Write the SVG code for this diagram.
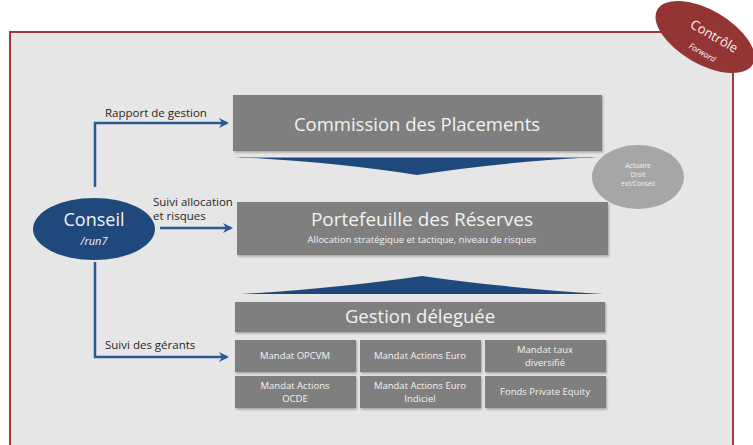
<svg xmlns="http://www.w3.org/2000/svg" width="753" height="445" viewBox="0 0 753 445">
<defs>
<style>
.box{fill:#7f7f7f;filter:url(#sh)}
.t{font-family:"Open Sans","Liberation Sans",sans-serif;fill:#f2f2f2;text-anchor:middle}
.lbl{font-family:"Open Sans","Liberation Sans",sans-serif;fill:#262626;font-size:11.5px}
.con{fill:none;stroke:#2a5a95;stroke-width:2.5;stroke-linejoin:miter}
.chev{fill:#1f497d}
.m{font-size:9.5px}
</style>
<filter id="sh" x="-5%" y="-10%" width="110%" height="130%">
<feDropShadow dx="1" dy="1.5" stdDeviation="1" flood-color="#000" flood-opacity="0.3"/>
</filter>
<marker id="ah" viewBox="0 0 10 10" refX="8" refY="5" markerWidth="4" markerHeight="4" orient="auto" markerUnits="strokeWidth">
<path d="M0,0 L10,5 L0,10 L3,5 Z" fill="#2a5a95"/>
</marker>
</defs>
<rect width="753" height="445" fill="#ffffff"/>
<g id="frame">
<rect x="10" y="32" width="723" height="420" fill="#e6e6e6" stroke="#a33a3a" stroke-width="2"/>
</g>
<g id="controle">
<ellipse cx="705" cy="37" rx="55" ry="27" transform="rotate(30 705 37)" fill="#943535"/>
<text class="t" x="712" y="40" font-size="13" transform="rotate(30 712 40)">Contrôle</text>
<text class="t" x="701" y="55" font-size="8" font-style="italic" transform="rotate(30 701 55)">Forward</text>
</g>
<g id="chevrons">
<path class="chev" d="M234,157 L598,157 Q500,162 417,175 Q334,162 234,157 Z"/>
<line x1="240" y1="157.5" x2="592" y2="157.5" stroke="#7d9acb" stroke-width="1"/>
<path class="chev" d="M242,294 L603,294 Q505,288 422,276 Q340,288 242,294 Z"/>
</g>
<g id="commission">
<rect class="box" x="233" y="95" width="369" height="56"/>
<text class="t" x="417" y="131" font-size="18.5">Commission des Placements</text>
</g>
<g id="actuaire">
<ellipse cx="638" cy="177" rx="46" ry="32" fill="#a6a6a6"/>
<text class="t" x="638" y="168" font-size="6.5">Actuaire</text>
<text class="t" x="638" y="177" font-size="6.5">Droit</text>
<text class="t" x="638" y="186" font-size="6.5">ext/Conseil</text>
</g>
<g id="connectors">
<path class="con" d="M95,187 L95,123 L227,123" marker-end="url(#ah)"/>
<path class="con" d="M160,228 L231,228" marker-end="url(#ah)"/>
<path class="con" d="M95,262 L95,357 L227,357" marker-end="url(#ah)"/>
<text class="lbl" x="105" y="117">Rapport de gestion</text>
<text class="lbl" x="153" y="206" font-size="10">Suivi  allocation</text>
<text class="lbl" x="153" y="220" font-size="10">et risques</text>
<text class="lbl" x="105" y="349">Suivi des gérants</text>
</g>
<g id="portefeuille">
<rect class="box" x="237" y="202" width="371" height="53"/>
<text class="t" x="422" y="226" font-size="19">Portefeuille des Réserves</text>
<text class="t" x="422" y="243" font-size="9.5">Allocation stratégique et tactique, niveau de risques</text>
</g>
<g id="conseil">
<ellipse cx="94" cy="229" rx="61" ry="31" fill="#1f497d"/>
<text class="t" x="94" y="226" font-size="18">Conseil</text>
<text class="t" x="94" y="245" font-size="11" font-style="italic">/run7</text>
</g>
<g id="gestion">
<rect class="box" x="235" y="302" width="370" height="30"/>
<text class="t" x="420" y="323" font-size="18.5">Gestion déleguée</text>
</g>
<g id="m1"><rect class="box" x="235" y="340" width="121" height="32"/><text class="t m" x="295" y="359">Mandat OPCVM</text></g>
<g id="m2"><rect class="box" x="360" y="340" width="121" height="32"/><text class="t m" x="420" y="359">Mandat Actions Euro</text></g>
<g id="m3"><rect class="box" x="485" y="340" width="121" height="32"/><text class="t m" x="545" y="353">Mandat taux</text><text class="t m" x="545" y="366">diversifié</text></g>
<g id="m4"><rect class="box" x="235" y="376" width="121" height="32"/><text class="t m" x="295" y="389">Mandat Actions</text><text class="t m" x="295" y="402">OCDE</text></g>
<g id="m5"><rect class="box" x="360" y="376" width="121" height="32"/><text class="t m" x="420" y="389">Mandat Actions Euro</text><text class="t m" x="420" y="402">Indiciel</text></g>
<g id="m6"><rect class="box" x="485" y="376" width="121" height="32"/><text class="t m" x="545" y="395">Fonds Private Equity</text></g>
</svg>
